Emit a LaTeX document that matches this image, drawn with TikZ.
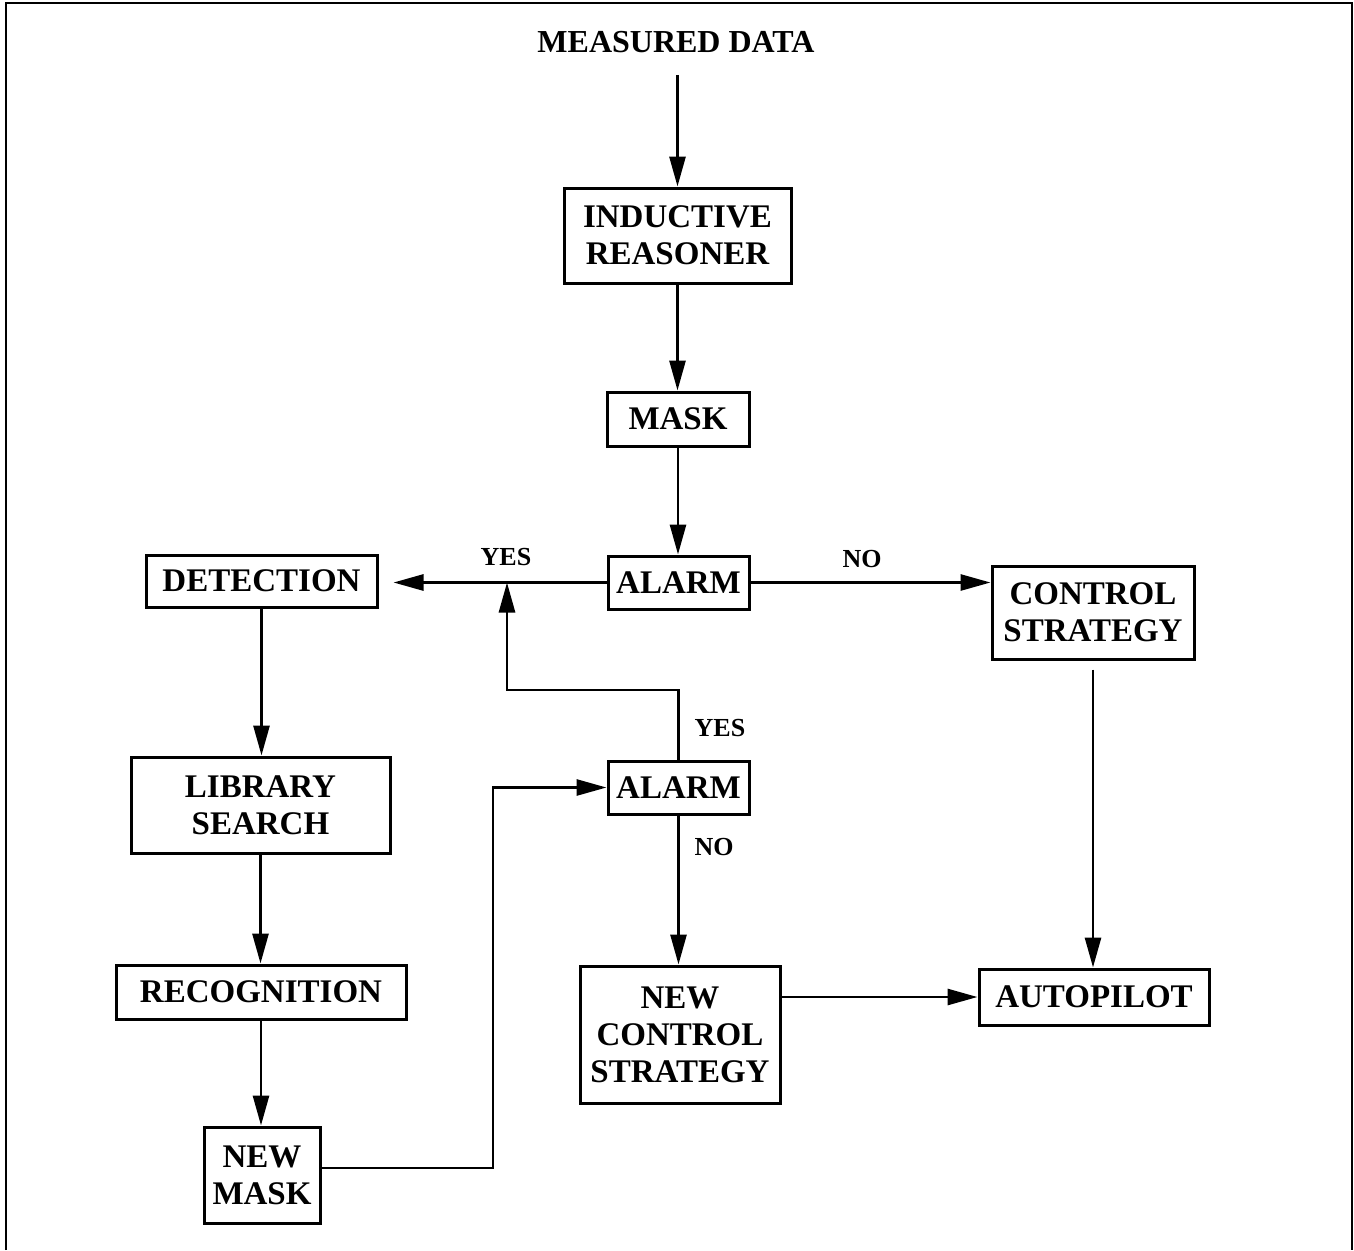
\documentclass[tikz,border=0pt]{standalone}
\usepackage{fontspec}
\setmainfont{Liberation Serif}
\usetikzlibrary{arrows.meta,calc}
\begin{document}
\begin{tikzpicture}[x=1pt,y=-1pt,
  box/.style={draw, line width=3pt, rectangle, inner sep=0pt, align=center,
    font=\fontsize{33}{37}\selectfont\bfseries},
  lbl/.style={inner sep=0pt, font=\fontsize{26}{30}\selectfont\bfseries},
  arr/.style={line width=2.8pt, -{Triangle[length=30pt,width=16pt]}},
  ln/.style={line width=2.8pt}]
\useasboundingbox (0,0) rectangle (1354,1250);
\draw[line width=1.8pt] (6,1250) -- (6,3) -- (1352,3) -- (1352,1250);

\node[inner sep=0pt, font=\fontsize{32}{37}\selectfont\bfseries] (md) at (676,42) {MEASURED DATA};
\node[box, minimum width=227pt, minimum height=95pt] (ir) at (677.5,235.5) {INDUCTIVE\\REASONER};
\node[box, minimum width=142pt, minimum height=54pt] (mask) at (678,419) {MASK};
\node[box, minimum width=141pt, minimum height=53pt] (al1) at (678.5,582.5) {ALARM};
\node[box, minimum width=231pt, minimum height=52pt] (det) at (261.5,581) {DETECTION};
\node[box, minimum width=202pt, minimum height=93pt] (cs) at (1093,612.5) {CONTROL\\STRATEGY};
\node[box, minimum width=259pt, minimum height=96pt] (ls) at (260.5,805) {LIBRARY\\SEARCH};
\node[box, minimum width=290pt, minimum height=54pt] (rec) at (261,992) {RECOGNITION};
\node[box, minimum width=116pt, minimum height=96pt] (nm) at (262,1175) {NEW\\MASK};
\node[box, minimum width=141pt, minimum height=53pt] (al2) at (678.5,787.5) {ALARM};
\node[box, minimum width=200pt, minimum height=137pt] (ncs) at (680,1034.5) {NEW\\CONTROL\\STRATEGY};
\node[box, minimum width=230pt, minimum height=56pt] (ap) at (1094,997) {AUTOPILOT};

\node[lbl] (y1) at (506,557) {YES};
\node[lbl] (n1) at (862,559) {NO};
\node[lbl] (y2) at (720,728) {YES};
\node[lbl] (n2) at (714,847) {NO};

\coordinate (j1) at (493,1168);
\coordinate (j2) at (507,690);

\draw[arr, shorten <=22pt] (md.south -| ir.north) -- (ir.north);
\draw[arr] (ir.south) -- (ir.south |- mask.north);
\draw[arr] (mask.south) -- (mask.south |- al1.north);
\draw[arr, shorten >=15pt] (al1.west) -- (al1.west -| det.east);
\draw[arr] (al1.east) -- (al1.east -| cs.west);
\draw[arr, shorten <=9pt] (cs.south) -- (cs.south |- ap.north);
\draw[arr] (det.south) -- (det.south |- ls.north);
\draw[arr] (ls.south) -- (ls.south |- rec.north);
\draw[arr] (rec.south) -- (rec.south |- nm.north);
\draw[arr] (nm.east |- j1) -- (j1) |- (al2.west);
\draw[arr] (al2.north) |- (j2) -- (j2 |- al1.west);
\draw[arr] (al2.south) -- (al2.south |- ncs.north);
\draw[arr] (ap.west -| ncs.east) -- (ap.west);
\end{tikzpicture}
\end{document}
